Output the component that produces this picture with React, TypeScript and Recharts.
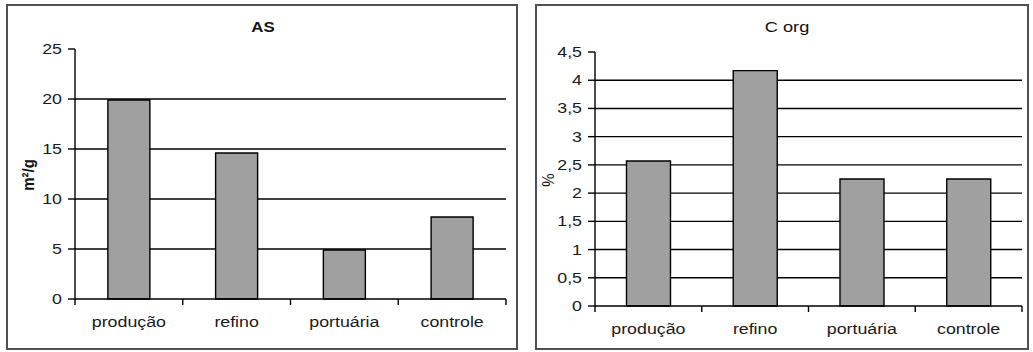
import React from 'react';
import { BarChart, Bar, XAxis, YAxis, CartesianGrid } from 'recharts';

const categories = ['produção', 'refino', 'portuária', 'controle'];
const asValues = [19.9, 14.6, 4.9, 8.2];
const corgValues = [2.57, 4.17, 2.25, 2.25];
const asTicks = [0, 5, 10, 15, 20, 25];
const corgTicks = [0, 0.5, 1, 1.5, 2, 2.5, 3, 3.5, 4, 4.5];
const asGrid = [5, 10, 15, 20];
const corgGrid = [0.5, 1, 1.5, 2, 2.5, 3, 3.5, 4];

const asData = categories.map((c, i) => ({ name: c, value: asValues[i] }));
const corgData = categories.map((c, i) => ({ name: c, value: corgValues[i] }));

const FONT = '"Liberation Sans", Arial, sans-serif';
const SX = 1.27;
const X_TICK_SIZE = 6;
const X_TICK_MARGIN = 12;
const LINE_W = 1.4;

const stretch = (x: number, y: number) =>
  `translate(${x} ${y}) scale(${SX} 1) translate(${-x} ${-y})`;

function XTick(props: any) {
  const { x, y, payload, index, width } = props;
  const axisY = y - X_TICK_SIZE - X_TICK_MARGIN;
  const half =
    payload && typeof payload.offset === 'number' && payload.offset > 0
      ? payload.offset
      : width / categories.length / 2;
  return (
    <g>
      <line x1={x - half} y1={axisY} x2={x - half} y2={axisY + X_TICK_SIZE} stroke="#000" strokeWidth={LINE_W} />
      {index === categories.length - 1 && (
        <line x1={x + half} y1={axisY} x2={x + half} y2={axisY + X_TICK_SIZE} stroke="#000" strokeWidth={LINE_W} />
      )}
      <text
        x={x}
        y={y}
        dy="0.71em"
        textAnchor="middle"
        fontFamily={FONT}
        fontSize={14}
        fill="#1a1a1a"
        transform={stretch(x, y)}
      >
        {payload.value}
      </text>
    </g>
  );
}

const makeYTick = (fmt: (v: number) => string) => (props: any) => {
  const { x, y, payload } = props;
  return (
    <text
      x={x}
      y={y}
      dy="0.355em"
      textAnchor="end"
      fontFamily={FONT}
      fontSize={14}
      fill="#1a1a1a"
      transform={stretch(x, y)}
    >
      {fmt(payload.value)}
    </text>
  );
};

const fmtAs = (v: number) => String(v);
const fmtCorg = (v: number) => String(v).replace('.', ',');

const textBase: React.CSSProperties = {
  position: 'absolute',
  fontFamily: FONT,
  color: '#111',
  whiteSpace: 'nowrap',
  lineHeight: 1,
};

export default function App() {
  return (
    <div style={{ position: 'absolute', left: 0, top: 0, width: 1033, height: 352, background: '#fff', overflow: 'hidden' }}>
      {/* Left panel */}
      <div style={{ position: 'absolute', left: 6, top: 4, width: 508, height: 342, border: '2px solid #505050' }} />
      <div style={{ position: 'absolute', left: 7, top: 5 }}>
        <BarChart width={511} height={345} data={asData} margin={{ top: 44, right: 12, left: 0, bottom: 21 }} barCategoryGap="30.5%">
          <CartesianGrid vertical={false} stroke="#000" strokeWidth={LINE_W} horizontalValues={asGrid} />
          <XAxis
            dataKey="name"
            height={30}
            tickSize={X_TICK_SIZE}
            tickMargin={X_TICK_MARGIN}
            tickLine={false}
            axisLine={{ stroke: '#000', strokeWidth: LINE_W }}
            tick={<XTick />}
            interval={0}
          />
          <YAxis
            width={68}
            domain={[0, 25]}
            ticks={asTicks}
            interval={0}
            tickSize={7}
            tickMargin={6}
            axisLine={{ stroke: '#000', strokeWidth: LINE_W }}
            tickLine={{ stroke: '#000', strokeWidth: LINE_W }}
            tick={makeYTick(fmtAs)}
          />
          <XAxis xAxisId="top" orientation="top" dataKey="name" height={0} tick={false} tickLine={false} axisLine={{ stroke: '#8c8c8c', strokeWidth: 1.2 }} />
          <YAxis yAxisId="right" orientation="right" width={0} domain={[0, 1]} tick={false} tickLine={false} axisLine={{ stroke: '#8c8c8c', strokeWidth: 1.2 }} />
          <Bar dataKey="value" fill="#a0a0a0" stroke="#000" strokeWidth={LINE_W} isAnimationActive={false} />
        </BarChart>
      </div>
      <div style={{ ...textBase, left: 263, top: 27, fontSize: 14, fontWeight: 700, transform: `translate(-50%, -50%) scaleX(1.2)` }}>AS</div>
      <div style={{ ...textBase, left: 28, top: 175, fontSize: 15, fontWeight: 700, transform: `translate(-50%, -50%) scaleX(1.15) rotate(-90deg)` }}>m²/g</div>

      {/* Right panel */}
      <div style={{ position: 'absolute', left: 535, top: 4, width: 490, height: 342, border: '2px solid #505050' }} />
      <div style={{ position: 'absolute', left: 536, top: 5 }}>
        <BarChart width={492} height={345} data={corgData} margin={{ top: 47, right: 6, left: 0, bottom: 14 }} barCategoryGap="29.5%">
          <CartesianGrid vertical={false} stroke="#000" strokeWidth={LINE_W} horizontalValues={corgGrid} />
          <XAxis
            dataKey="name"
            height={30}
            tickSize={X_TICK_SIZE}
            tickMargin={X_TICK_MARGIN}
            tickLine={false}
            axisLine={{ stroke: '#000', strokeWidth: LINE_W }}
            tick={<XTick />}
            interval={0}
          />
          <YAxis
            width={59}
            domain={[0, 4.5]}
            ticks={corgTicks}
            interval={0}
            tickSize={7}
            tickMargin={6}
            axisLine={{ stroke: '#000', strokeWidth: LINE_W }}
            tickLine={{ stroke: '#000', strokeWidth: LINE_W }}
            tick={makeYTick(fmtCorg)}
          />
          <XAxis xAxisId="top" orientation="top" dataKey="name" height={0} tick={false} tickLine={false} axisLine={{ stroke: '#8c8c8c', strokeWidth: 1.2 }} />
          <YAxis yAxisId="right" orientation="right" width={0} domain={[0, 1]} tick={false} tickLine={false} axisLine={{ stroke: '#8c8c8c', strokeWidth: 1.2 }} />
          <Bar dataKey="value" fill="#a0a0a0" stroke="#000" strokeWidth={LINE_W} isAnimationActive={false} />
        </BarChart>
      </div>
      <div style={{ ...textBase, left: 787, top: 27, fontSize: 14, transform: `translate(-50%, -50%) scaleX(1.3)` }}>C org</div>
      <div style={{ ...textBase, left: 548, top: 180, fontSize: 15, transform: `translate(-50%, -50%) scaleX(1.15) rotate(-90deg)` }}>%</div>
    </div>
  );
}
